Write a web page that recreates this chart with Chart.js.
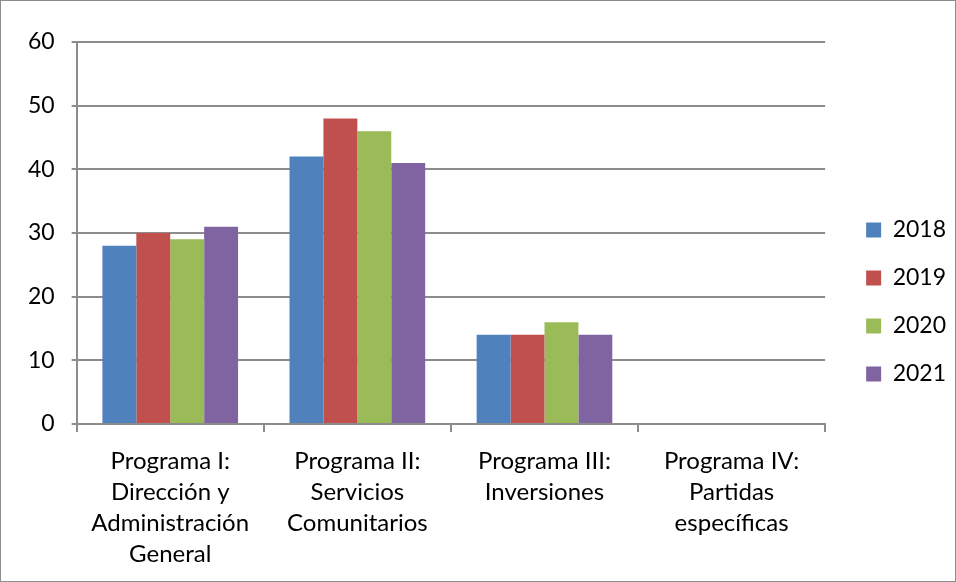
<!DOCTYPE html>
<html>
<head>
<meta charset="utf-8">
<script src="https://cdn.jsdelivr.net/npm/chart.js@4"></script>
<style>
  html, body { margin: 0; padding: 0; background: #fff; }
  #wrap { width: 956px; height: 582px; box-sizing: border-box; border: 1px solid #8c8c8c; position: relative; }
  canvas { display: block; }
</style>
</head>
<body>
<div id="wrap"><canvas id="chart" width="954" height="580"></canvas></div>
<script>
// categories and series
const categories = [
    ['Programa I:', 'Dirección y', 'Administración', 'General'],
    ['Programa II:', 'Servicios', 'Comunitarios'],
    ['Programa III:', 'Inversiones'],
    ['Programa IV:', 'Partidas', 'específicas']
];
const years = ['2018', '2019', '2020', '2021'];
const values2018 = [28, 42, 14, null];
const values2019 = [30, 48, 14, null];
const values2020 = [29, 46, 16, null];
const values2021 = [31, 41, 14, null];
const colors = ['#4F81BD', '#C0504D', '#9BBB59', '#8064A2'];

const series = [values2018, values2019, values2020, values2021];
const gridColor = '#8c8c8c';
const family = 'Lato, "Open Sans", sans-serif';

// move the legend a bit further from the plot and up, like the excel original
const legendShift = {
    id: 'legendShift',
    afterLayout(chart) {
        const lg = chart.legend;
        if (!lg) return;
        const w = lg.right - lg.left;
        const h = lg.bottom - lg.top;
        lg.left = chart.chartArea.right + 16;
        lg.right = lg.left + w;
        lg.top = (602 - h) / 2;
        lg.bottom = lg.top + h;
    }
};

new Chart(document.getElementById('chart'), {
    type: 'bar',
    data: {
        labels: categories,
        datasets: series.map((vals, i) => ({
            label: years[i],
            data: vals,
            backgroundColor: colors[i],
            borderWidth: 0,
            categoryPercentage: 0.725,
            barPercentage: 1
        }))
    },
    options: {
        responsive: false,
        animation: false,
        layout: { padding: { top: 41, left: 10, right: 15, bottom: 0 } },
        plugins: {
            legend: {
                position: 'right',
                labels: {
                    color: '#000',
                    font: { family: family, size: 23 },
                    boxWidth: 15,
                    boxHeight: 15,
                    padding: 25
                }
            },
            tooltip: { enabled: false }
        },
        scales: {
            x: {
                grid: {
                    offset: true,
                    drawOnChartArea: false,
                    color: gridColor,
                    lineWidth: 2,
                    tickLength: 8
                },
                border: { color: gridColor, width: 2 },
                ticks: {
                    color: '#000',
                    font: { family: family, size: 24, lineHeight: 31 / 24 },
                    maxRotation: 0,
                    autoSkip: false,
                    padding: 14
                },
                afterFit(scale) {
                    scale.height = 157;
                }
            },
            y: {
                min: 0,
                max: 60,
                ticks: {
                    stepSize: 10,
                    color: '#000',
                    font: { family: family, size: 23 },
                    padding: 17
                },
                grid: { color: gridColor, lineWidth: 2, tickLength: 5 },
                border: { color: gridColor, width: 2 }
            }
        }
    },
    plugins: [legendShift]
});
</script>
</body>
</html>
